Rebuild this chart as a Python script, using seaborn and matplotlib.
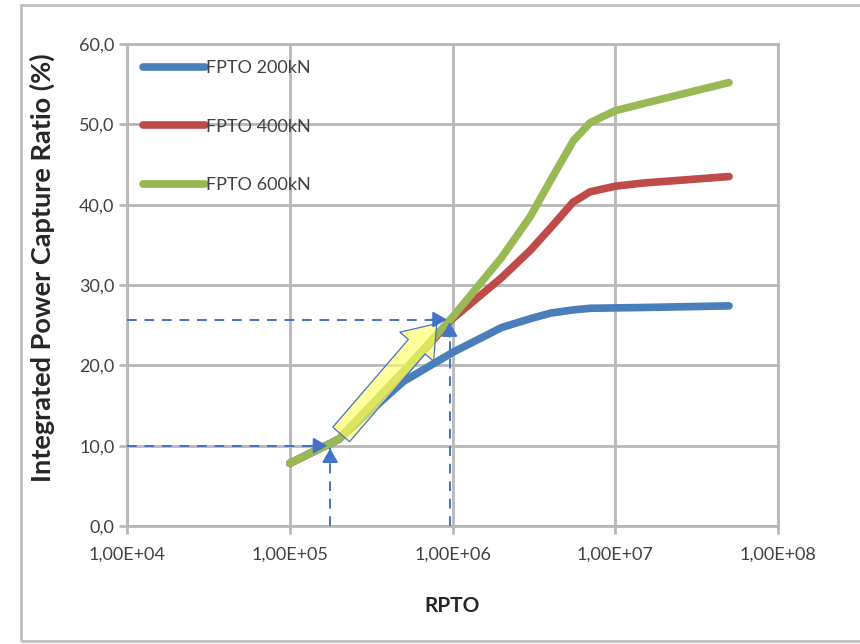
import matplotlib
matplotlib.use("Agg")
import matplotlib.pyplot as plt
import matplotlib.ticker as mticker
from matplotlib.patches import Rectangle
import seaborn as sns
import pandas as pd
import numpy as np

# ---- data ----
rpto = [1e5, 2e5, 5e5, 1e6, 2e6, 3e6, 4e6, 5.5e6, 7e6, 1e7, 1.5e7, 5e7]
fpto_200 = [7.8, 10.8, 18.0, 21.6, 24.7, 25.8, 26.5, 26.9, 27.1, 27.15, 27.2, 27.4]
fpto_400 = [7.8, 10.8, 19.1, 25.8, 30.9, 34.3, 37.1, 40.3, 41.6, 42.3, 42.7, 43.5]
fpto_600 = [7.8, 10.8, 19.3, 26.0, 33.4, 38.5, 43.0, 47.9, 50.2, 51.7, 52.6, 55.2]
series_names = ["FPTO 200kN", "FPTO 400kN", "FPTO 600kN"]
series_colors = ["#4a7ebb", "#be4b48", "#98b954"]
y_ticks = [0, 10, 20, 30, 40, 50, 60]
x_ticks = [1e4, 1e5, 1e6, 1e7, 1e8]
guide_points = [(1.77e5, 10.0), (9.6e5, 25.7)]
arrow_tail = (2.07e5, 11.4)
arrow_tip = (8.0e5, 25.2)

df = pd.DataFrame({
    "RPTO": rpto * 3,
    "value": fpto_200 + fpto_400 + fpto_600,
    "series": [series_names[0]] * len(rpto) + [series_names[1]] * len(rpto) + [series_names[2]] * len(rpto),
})

sns.set_theme(style="white")
plt.rcParams["font.family"] = ["Lato", "DejaVu Sans"]

fig = plt.figure(figsize=(8.6, 6.44), dpi=100)
ax = fig.add_axes([127 / 860, 1 - 526 / 644, (778 - 127) / 860, (526 - 44) / 644])

grid_c = "#b8b8b8"
ax.set_xscale("log")
ax.set_xlim(1e4, 1e8)
ax.set_ylim(0, 60)
ax.set_xticks(x_ticks)
ax.set_yticks(y_ticks)
ax.xaxis.set_minor_locator(mticker.NullLocator())
ax.grid(True, which="major", color=grid_c, linewidth=2.0)
ax.set_axisbelow(True)
for s in ax.spines.values():
    s.set_color(grid_c)
    s.set_linewidth(2.0)

# guide dashed lines
dash_c = "#4472c4"
for gx, gy in guide_points:
    ax.plot([1e4, gx], [gy, gy], color=dash_c, lw=1.4, ls=(0, (5, 4)), zorder=3)
    ax.plot([gx, gx], [0, gy], color=dash_c, lw=1.4, ls=(0, (5, 4)), zorder=3)

sns.lineplot(data=df, x="RPTO", y="value", hue="series", palette=series_colors,
             linewidth=5.5, ax=ax, legend=True, zorder=4,
             solid_capstyle="round", solid_joinstyle="round")

# arrow heads at guide points
for gx, gy in guide_points:
    ax.annotate("", xy=(gx, gy), xytext=(gx / 1.35, gy),
                arrowprops=dict(arrowstyle="-|>,head_length=0.7,head_width=0.4",
                                color=dash_c, lw=1.4), zorder=6)
    ax.annotate("", xy=(gx, gy), xytext=(gx, gy - 2.5),
                arrowprops=dict(arrowstyle="-|>,head_length=0.7,head_width=0.4",
                                color=dash_c, lw=1.4), zorder=6)

# yellow block arrow
ax.annotate("", xy=arrow_tip, xytext=arrow_tail,
            arrowprops=dict(arrowstyle="simple,head_length=1.1,head_width=1.6,tail_width=0.8",
                            mutation_scale=20, facecolor=(1.0, 1.0, 0.4, 0.65),
                            edgecolor="#4472c4", lw=0.9, shrinkA=0, shrinkB=0), zorder=5)

fmt_y = mticker.FuncFormatter(lambda v, p: f"{v:.1f}".replace(".", ","))
def fmt_x(v, p):
    e = int(round(np.log10(v)))
    return f"1,00E+{e:02d}"
ax.yaxis.set_major_formatter(fmt_y)
ax.xaxis.set_major_formatter(mticker.FuncFormatter(fmt_x))
ax.tick_params(axis="both", which="major", direction="out", length=6, width=2,
               color=grid_c, labelsize=13, labelcolor="#404040", pad=3, left=True, bottom=True)
ax.tick_params(axis="x", pad=9)

ax.set_xlabel("RPTO", fontsize=15, fontweight="bold", color="#262626")
ax.xaxis.set_label_coords(0.5, -0.145)
ax.set_ylabel("Integrated Power Capture Ratio (%)", fontsize=19.5, fontweight="bold", color="#262626")
ax.yaxis.set_label_coords(-0.11, 0.535)

leg = ax.legend(loc="upper left", bbox_to_anchor=(0.0, 1.0), frameon=False, fontsize=13,
                handlelength=3.4, handletextpad=0.1, labelspacing=2.35, borderaxespad=0.5)
for t in leg.get_texts():
    t.set_color("#404040")

fig.patches.append(Rectangle((21 / 860, 1 - 641 / 644), 1.2, (641 - 5) / 644,
                             transform=fig.transFigure, fill=False,
                             edgecolor="#c0c0c0", lw=2.0, zorder=0))

fig.savefig("out.png", dpi=100)
